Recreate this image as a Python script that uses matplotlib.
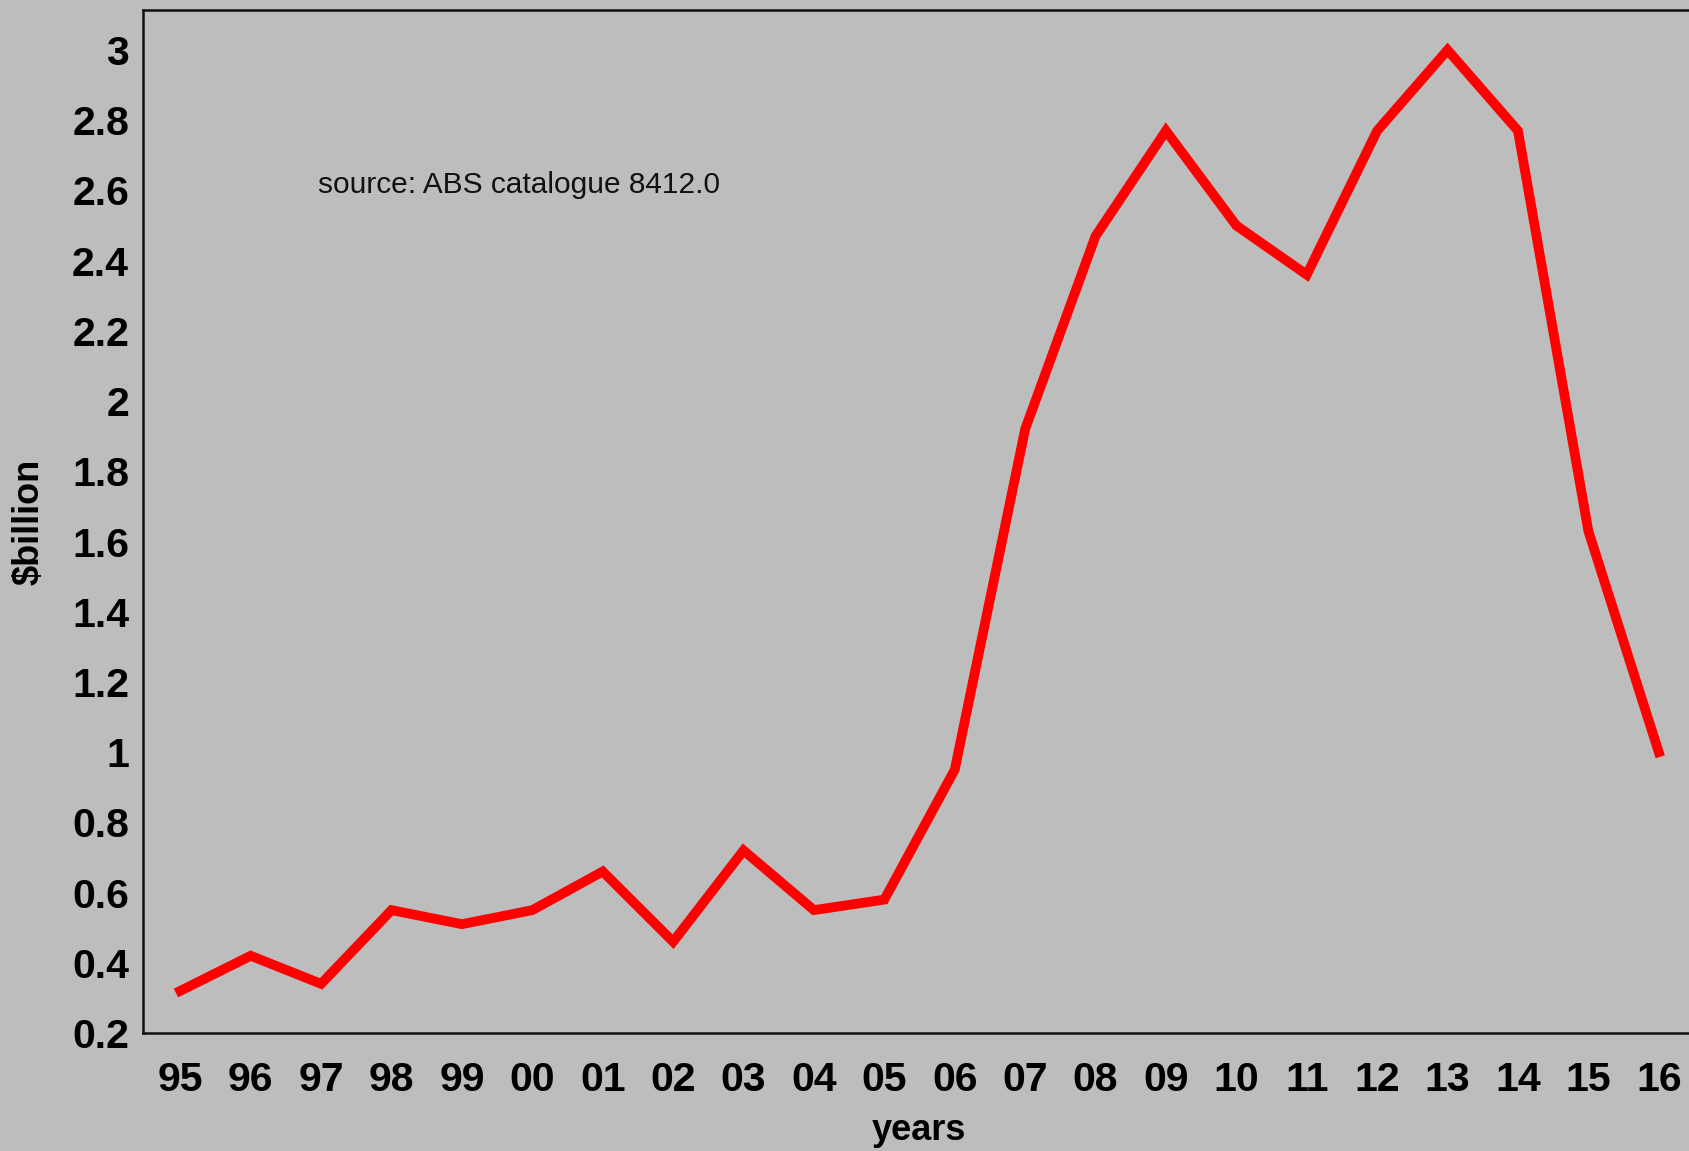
import matplotlib
matplotlib.use("Agg")
import matplotlib.pyplot as plt

years = ["95", "96", "97", "98", "99", "00", "01", "02", "03", "04", "05",
         "06", "07", "08", "09", "10", "11", "12", "13", "14", "15", "16"]
values = [0.32, 0.42, 0.34, 0.55, 0.51, 0.55, 0.66, 0.46, 0.72, 0.55, 0.58,
          0.95, 1.92, 2.47, 2.77, 2.50, 2.36, 2.77, 3.00, 2.77, 1.63, 1.00]
yticks = [0.2, 0.4, 0.6, 0.8, 1, 1.2, 1.4, 1.6, 1.8, 2, 2.2, 2.4, 2.6, 2.8, 3]
ytick_labels = ["0.2", "0.4", "0.6", "0.8", "1", "1.2", "1.4", "1.6", "1.8",
                "2", "2.2", "2.4", "2.6", "2.8", "3"]

plt.rcParams['font.family'] = ['Liberation Sans', 'DejaVu Sans']

bg = '#bdbdbd'
fig = plt.figure(figsize=(16.89, 11.51), dpi=100, facecolor=bg)
ax = fig.add_axes([143/1689, 1 - 1033/1151, 1558/1689, 1023/1151])
ax.set_facecolor(bg)

x = list(range(len(years)))
ax.plot(x, values, color='#ff0000', lw=7, solid_joinstyle='miter')

ax.set_xlim(-0.53, 21.6)
ax.set_ylim(0.2, 3.114)
ax.set_xticks(x)
ax.set_xticklabels(years)
ax.set_yticks(yticks)
ax.set_yticklabels(ytick_labels)
ax.tick_params(axis='both', length=0, labelsize=29.5)
ax.tick_params(axis='x', pad=20)
ax.tick_params(axis='y', pad=10)
for lab in ax.get_xticklabels() + ax.get_yticklabels():
    lab.set_fontweight('bold')

for s in ['left', 'top', 'bottom']:
    ax.spines[s].set_linewidth(1.8)
    ax.spines[s].set_color('#111111')
ax.spines['right'].set_visible(False)

fig.text(919/1689, 1 - 1131/1151, 'years', ha='center', va='center',
         fontsize=26, fontweight='bold')
fig.text(29/1689, 1 - 522/1151, '$billion', ha='center', va='center',
         rotation=90, fontsize=26, fontweight='bold')

ax.text(1.96, 2.615, 'source: ABS catalogue 8412.0', ha='left', va='center',
        fontsize=21.5, color='#111111')

fig.savefig('out.png', dpi=100, facecolor=bg)
